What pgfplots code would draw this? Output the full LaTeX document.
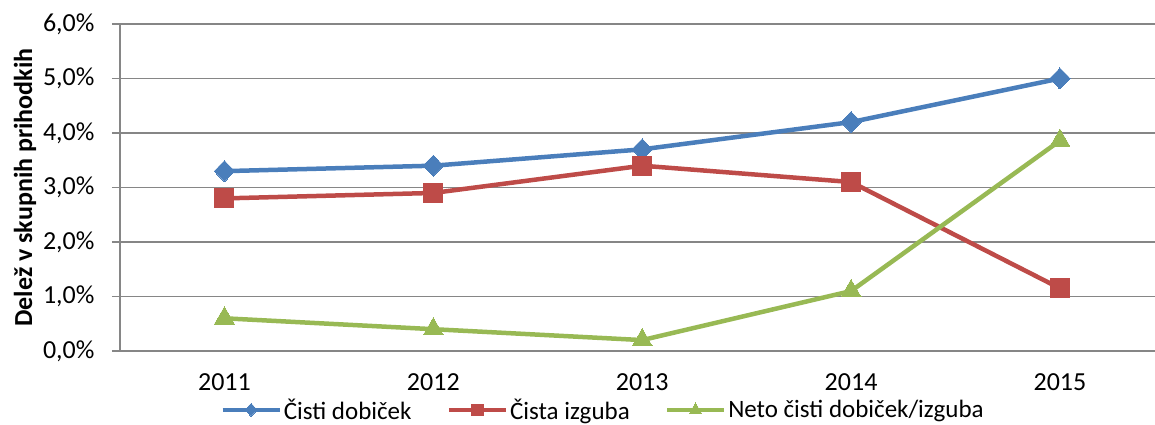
\documentclass[border=0pt]{standalone}
\usepackage{pgfplots}
\pgfplotsset{compat=1.18}
\usepackage{fontspec}
\setmainfont{Carlito}
\definecolor{cblue}{HTML}{4A7EBB}
\definecolor{cred}{HTML}{BE4B48}
\definecolor{cgreen}{HTML}{98B954}
\definecolor{cgrid}{HTML}{868686}
\begin{document}
\begin{tikzpicture}
\path[use as bounding box] (-120pt,-74pt) rectangle (1035pt,351pt);
\begin{axis}[
  at={(0pt,0pt)}, anchor=south west,
  scale only axis, width=1035pt, height=327pt,
  xmin=-0.5, xmax=4.455, ymin=0, ymax=6,
  axis lines*=left,
  axis line style={cgrid, line width=1.4pt},
  xtick={0,1,2,3,4},
  xticklabels={2011,2012,2013,2014,2015},
  x tick style={draw=none},
  extra x ticks={-0.5,0.5,1.5,2.5,3.5},
  extra x tick labels={},
  extra x tick style={tick align=outside, major tick length=8pt, tick style={cgrid, line width=1.4pt, draw=cgrid}},
  ytick={0,1,2,3,4,5,6},
  yticklabels={{0,0\%},{1,0\%},{2,0\%},{3,0\%},{4,0\%},{5,0\%},{6,0\%}},
  y tick style={cgrid, line width=1.4pt},
  tick align=outside,
  major tick length=8pt,
  ymajorgrids,
  grid style={cgrid, line width=1.4pt},
  ticklabel style={font=\fontsize{26}{30}\selectfont, text=black},
  yticklabel style={xshift=-14pt},
  xticklabel style={yshift=-11pt},
  ylabel={\bfseries Delež v skupnih prihodkih},
  ylabel style={at={(axis description cs:-0.0918,0.5)}, anchor=center, font=\fontsize{26}{30}\selectfont},
  clip=false,
  legend columns=3,
  legend style={at={(axis description cs:0.4667,-0.180)}, anchor=center, draw=none, fill=none,
    font=\fontsize{25}{28}\selectfont,
    /tikz/every even column/.append style={column sep=33pt},
    inner sep=0pt},
  legend cell align=left,
  legend image code/.code={\draw[mark repeat=2,mark phase=2,#1, every mark/.append style={scale=0.6}] plot coordinates {(0pt,0pt)(28.5pt,0pt)(57pt,0pt)};},
  every axis plot/.append style={line width=4.5pt},
]
\addplot[cblue, mark=diamond*, mark size=10.5pt, mark options={solid, line width=0pt, xscale=1.3, fill=cblue, draw=cblue}]
  coordinates {(0,3.3) (1,3.4) (2,3.7) (3,4.2) (4,5.0)};
\addlegendentry{Čisti dobiček}
\addplot[cred, mark=square*, mark size=9.5pt, mark options={solid, line width=0pt, fill=cred, draw=cred}]
  coordinates {(0,2.8) (1,2.9) (2,3.4) (3,3.1) (4,1.15)};
\addlegendentry{Čista izguba}
\addplot[cgreen, mark=triangle*, mark size=11.5pt, mark options={solid, line width=0pt, fill=cgreen, draw=cgreen}]
  coordinates {(0,0.6) (1,0.4) (2,0.2) (3,1.1) (4,3.86)};
\addlegendentry{Neto čisti dobiček/izguba}
\end{axis}
\end{tikzpicture}
\end{document}
